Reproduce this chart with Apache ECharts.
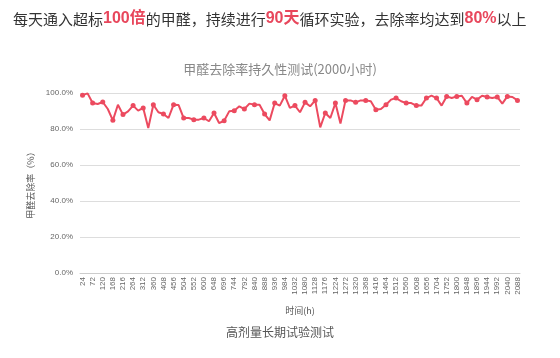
<!DOCTYPE html>
<html><head><meta charset="utf-8">
<script src="https://cdn.jsdelivr.net/npm/echarts@6/dist/echarts.min.js"></script>
<style>html,body{margin:0;padding:0;background:#fff}#c{width:560px;height:358px}</style>
</head><body><div id="c"></div>
<script>
const hours = [];
for (let h = 24; h <= 2088; h += 24) hours.push(String(h));
const removalRate = [
  98.8, 99.8, 94.4, 93.9, 95.0, 91.1, 84.8, 93.5, 88.0, 89.8,
  93.0, 90.2, 91.7, 80.6, 93.5, 89.3, 88.3, 86.1, 93.5, 93.3,
  86.1, 86.1, 85.2, 85.2, 86.1, 84.3, 88.9, 83.3, 84.6, 89.8,
  90.2, 92.6, 91.1, 94.1, 93.5, 93.5, 88.3, 84.8, 94.4, 93.0,
  98.5, 91.7, 93.0, 89.3, 94.8, 92.6, 95.9, 80.9, 88.9, 86.1,
  94.4, 83.0, 95.9, 95.9, 94.8, 95.9, 95.9, 95.4, 90.7, 91.1,
  93.5, 96.3, 97.2, 95.4, 94.4, 94.4, 93.0, 93.0, 97.2, 98.5,
  97.2, 93.0, 98.1, 97.2, 98.1, 98.5, 94.4, 97.8, 96.3, 98.5,
  97.8, 97.2, 97.8, 94.1, 98.1, 97.8, 95.9
];
const yTicks = [0, 20, 40, 60, 80, 100];

const chart = echarts.init(document.getElementById('c'));
chart.setOption({
  backgroundColor: '#fff',
  animation: false,
  title: [
    {
      left: 8, top: 6,
      text: '{a|每天通入超标}{r|100倍}{a|的甲醛，持续进行}{r|90天}{a|循环实验，去除率均达到}{r|80%}{a|以上}',
      textStyle: {
        fontWeight: 'normal',
        rich: {
          a: { fontSize: 15, color: '#333', fontWeight: 'normal', fontFamily: 'Noto Sans CJK SC' },
          r: { fontSize: 16, color: '#e8475c', fontWeight: 'bold', fontFamily: 'Liberation Sans, Noto Sans CJK SC' }
        }
      }
    },
    {
      left: 'center', top: 58,
      text: '甲醛去除率持久性测试(2000小时)',
      textStyle: { fontSize: 13, color: '#888', fontWeight: 'normal', fontFamily: 'Noto Sans CJK SC' }
    },
    {
      left: 'center', top: 321,
      text: '高剂量长期试验测试',
      textStyle: { fontSize: 12, color: '#555', fontWeight: 'normal', fontFamily: 'Noto Sans CJK SC' }
    }
  ],
  grid: { left: 80, right: 40, top: 93, bottom: 85 },
  xAxis: {
    type: 'category',
    data: hours,
    boundaryGap: true,
    name: '时间(h)',
    nameLocation: 'middle',
    nameGap: 33,
    nameTextStyle: { fontSize: 9, color: '#555', fontFamily: 'Noto Sans CJK SC' },
    axisLine: { lineStyle: { color: '#ccc' } },
    axisTick: { show: false },
    axisLabel: { interval: 1, rotate: 90, fontSize: 8, color: '#666', margin: 4, fontFamily: 'Liberation Sans' }
  },
  yAxis: {
    type: 'value',
    min: yTicks[0], max: yTicks[yTicks.length - 1], interval: 20,
    name: '甲醛去除率（%）',
    nameLocation: 'middle',
    nameGap: 38,
    nameTextStyle: { fontSize: 9, color: '#555', fontFamily: 'Noto Sans CJK SC' },
    axisLine: { show: false },
    axisTick: { show: false },
    axisLabel: { fontSize: 8, color: '#666', margin: 7, fontFamily: 'Liberation Sans', formatter: v => v.toFixed(1) + '%' },
    splitLine: { lineStyle: { color: '#ddd' } }
  },
  series: [{
    type: 'line',
    data: removalRate,
    symbol: 'circle',
    symbolSize: 5,
    showSymbol: true,
    lineStyle: { color: '#ec4a5f', width: 2 },
    itemStyle: { color: '#ec4a5f' }
  }]
});
</script></body></html>
